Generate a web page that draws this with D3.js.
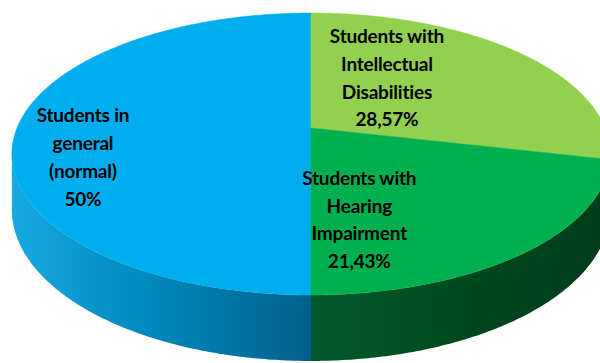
<!DOCTYPE html>
<html>
<head>
<meta charset="utf-8">
<script src="https://cdn.jsdelivr.net/npm/d3@7"></script>
<style>
  body { margin: 0; background: #fff; }
  svg { display: block; }
</style>
</head>
<body>
<svg width="600" height="363"></svg>
<script>
// data
var categories = ['general', 'intellectual', 'hearing'];
var values = [50, 28.57, 21.43];
var labels = [
    ['Students in', 'general', '(normal)', '50%'],
    ['Students with', 'Intellectual', 'Disabilities', '28,57%'],
    ['Students with', 'Hearing', 'Impairment', '21,43%']
];
var topColors = ['#00aeef', '#92d050', '#00b050'];

var svg = d3.select('svg');

// 3d projection of the pie (perspective tilt)
var cx = 311, cy = 128;
var a = 294, b = 136.2, k = 0.1844, depth = 53.8;

function proj(phi, r, drop) {
    var X = r * Math.sin(phi), Z = r * Math.cos(phi);
    var w = 1 + k * Z;
    return [cx + a * X / w, cy - b * Z / w + (drop || 0) / w];
}

function arcPts(a0, a1, drop) {
    var n = Math.max(2, Math.ceil(Math.abs(a1 - a0) / 0.01));
    return d3.range(n + 1).map(function(i) {
        return proj(a0 + (a1 - a0) * i / n, 1, drop);
    });
}

var pie = d3.pie().sort(null).startAngle(Math.PI).endAngle(3 * Math.PI);
var arcs = pie(values);

var line = d3.line();

// gradients for the side wall
var defs = svg.append('defs');
var sideGrads = [
    { id: 'g0', x1: 12, x2: 311, stops: [['0%', '#18a8e0'], ['45%', '#0089bd'], ['100%', '#00608c']] },
    { id: 'g1', x1: 311, x2: 600, stops: [['0%', '#5e9a30'], ['100%', '#4a7d25']] },
    { id: 'g2', x1: 311, x2: 600, stops: [['0%', '#00592a'], ['60%', '#00461d'], ['100%', '#003e19']] }
];
sideGrads.forEach(function(g) {
    var lg = defs.append('linearGradient')
        .attr('id', g.id)
        .attr('gradientUnits', 'userSpaceOnUse')
        .attr('x1', g.x1).attr('x2', g.x2)
        .attr('y1', 0).attr('y2', 0);
    g.stops.forEach(function(s) {
        lg.append('stop').attr('offset', s[0]).attr('stop-color', s[1]);
    });
});

// visible part of the rim (between the silhouette points)
var sil0 = Math.acos(-k), sil1 = 2 * Math.PI - sil0;

function norm(t) {
    var p = 2 * Math.PI;
    return ((t % p) + p) % p;
}

// side walls
arcs.forEach(function(d, i) {
    var s = norm(d.startAngle), e = s + (d.endAngle - d.startAngle);
    var lo = Math.max(s, sil0), hi = Math.min(e, sil1);
    if (hi <= lo) return;
    var pts = arcPts(lo, hi, 0).concat(arcPts(hi, lo, depth));
    svg.append('path')
        .attr('d', line(pts) + 'Z')
        .attr('fill', 'url(#g' + i + ')');
});

// top faces
arcs.forEach(function(d, i) {
    var pts = [proj(0, 0, 0)].concat(arcPts(d.startAngle, d.endAngle, 0));
    svg.append('path')
        .attr('d', line(pts) + 'Z')
        .attr('fill', topColors[i])
        .attr('stroke', topColors[i])
        .attr('stroke-width', 0.5);
});

// label anchors: [angle in degrees, radius fraction]
var labelSpots = [[254.6, 0.774], [35.1, 0.482], [166.3, 0.617]];
var lh = 27.8;

labels.forEach(function(lines, i) {
    var p = proj(labelSpots[i][0] * Math.PI / 180, labelSpots[i][1], 0);
    var t = svg.append('text')
        .attr('text-anchor', 'middle')
        .attr('font-family', 'Lato, "Open Sans", sans-serif')
        .attr('font-weight', 'bold')
        .attr('font-size', 19)
        .attr('letter-spacing', -0.2)
        .attr('fill', '#000');
    lines.forEach(function(s, j) {
        t.append('tspan')
            .attr('x', p[0])
            .attr('y', p[1] + (j - 1.5) * lh + 6.8)
            .text(s);
    });
});
</script>
</body>
</html>
